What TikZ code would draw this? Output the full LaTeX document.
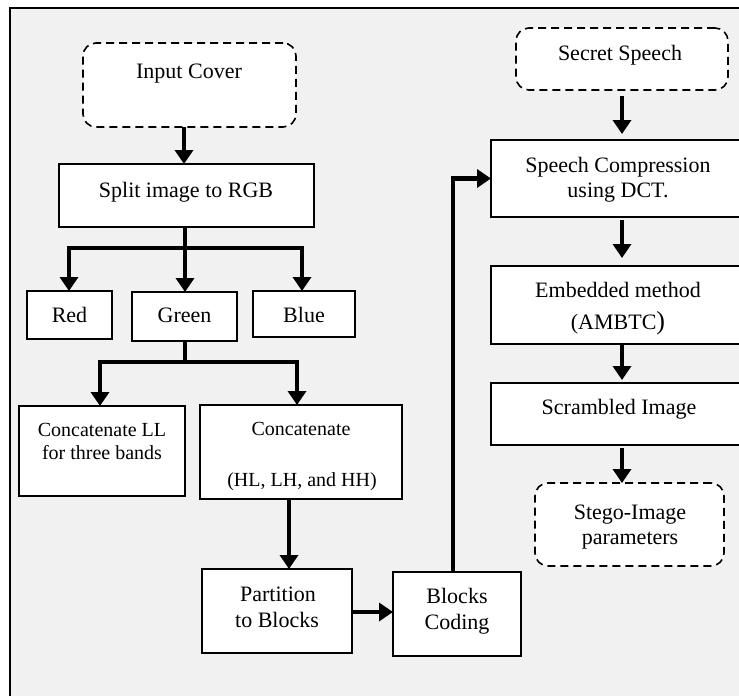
\documentclass[tikz,border=0pt]{standalone}
\usepackage{fontspec}
\setmainfont{Liberation Serif}
\usetikzlibrary{arrows.meta}
\definecolor{bgc}{HTML}{F1F1F1}
\newcommand\fsz[1]{\fontsize{#1}{#1}\selectfont}
\tikzset{
  box/.style={draw, line width=1.6pt, fill=white, inner sep=0pt, outer sep=0pt},
  dbox/.style={box, dash pattern=on 8pt off 5pt, rounded corners=13pt},
  txt/.style={inner sep=0pt, outer sep=0pt, font=\fsz{22}, text height=15pt, text depth=0pt},
  stxt/.style={txt, font=\fsz{20}, text height=14pt},
  ln/.style={line width=4.2pt},
  arr/.style={line width=4.2pt, -{Triangle[length=14pt,width=18pt]}}
}
\begin{document}
\begin{tikzpicture}[x=1pt,y=-1pt]
\useasboundingbox (0,0) rectangle (739,696);
\clip (0,0) rectangle (739,696);
\draw[line width=1.6pt, fill=bgc] (10,8) rectangle (800,760);

% boxes
\node[dbox, minimum width=213pt, minimum height=84pt] (incover) at (189.5,85) {};
\node[box, minimum width=255pt, minimum height=63pt] (split) at (186.5,195.5) {};
\node[box, minimum width=85pt, minimum height=48pt] (red) at (69.5,315) {};
\node[box, minimum width=105pt, minimum height=49pt] (green) at (184.5,316.5) {};
\node[box, minimum width=102pt, minimum height=46pt] (blue) at (304,314) {};
\node[box, minimum width=166pt, minimum height=90pt] (cll) at (102,451) {};
\node[box, minimum width=202pt, minimum height=94pt] (ccat) at (301,452) {};
\node[box, minimum width=150pt, minimum height=84pt] (part) at (277,611) {};
\node[box, minimum width=128pt, minimum height=84pt] (bcode) at (457,614) {};
\node[dbox, minimum width=212pt, minimum height=62pt] (secret) at (622,59) {};
\node[box, minimum width=254pt, minimum height=77pt] (speech) at (618,178.5) {};
\node[box, minimum width=254pt, minimum height=78pt] (embed) at (618,305) {};
\node[box, minimum width=254pt, minimum height=62pt] (scram) at (618,414) {};
\node[dbox, minimum width=189pt, minimum height=83pt] (stego) at (629.5,524.5) {};

% texts
\node[txt] (t-incover) at (189,71) {Input Cover};
\node[txt] (t-split) at (186,190) {Split image to RGB};
\node[txt] (t-red) at (69.5,315) {Red};
\node[txt] (t-green) at (184.5,315) {Green};
\node[txt] (t-blue) at (304,315) {Blue};
\node[stxt] (t-cll1) at (102,429) {Concatenate LL};
\node[stxt] (t-cll2) at (102,452) {for three bands};
\node[stxt] (t-ccat1) at (301,428) {Concatenate};
\node[stxt] (t-ccat2) at (302,479) {(HL, LH, and HH)};
\node[txt] (t-part1) at (278,594) {Partition};
\node[txt] (t-part2) at (277,620) {to Blocks};
\node[txt] (t-bcode1) at (457,596) {Blocks};
\node[txt] (t-bcode2) at (457,622) {Coding};
\node[txt] (t-secret) at (620,53) {Secret Speech};
\node[txt] (t-speech1) at (618,165) {Speech Compression};
\node[txt] (t-speech2) at (618,190) {using DCT.};
\node[txt] (t-embed1) at (618,290) {Embedded method};
\node[txt] (t-embed2) at (618,322) {(AMBTC{\fsz{26})}};
\node[txt] (t-scram) at (619,407) {Scrambled Image};
\node[txt] (t-stego1) at (630,512) {Stego-Image};
\node[txt] (t-stego2) at (630,537) {parameters};

% helper coordinates
\coordinate (xa) at (184,0);
\coordinate (j1) at (185,248);
\coordinate (j2) at (185,362);
\coordinate (xb) at (297,0);
\coordinate (xl) at (100,0);
\coordinate (xr) at (69,0);
\coordinate (xu) at (302,0);
\coordinate (xc) at (289,0);
\coordinate (xd) at (453,0);
\coordinate (xe) at (622,0);

% connectors
\draw[arr] (incover.south -| xa) -- (split.north -| xa);
\draw[ln] (split.south -| j1) -- (j1);
\draw[arr] (j1) -| (red.north -| xr);
\draw[arr] (j1) -| (blue.north -| xu);
\draw[arr] (j1) -- (green.north -| j1);
\draw[ln] (green.south -| j2) -- (j2);
\draw[arr] (j2) -| (cll.north -| xl);
\draw[arr] (j2) -| (ccat.north -| xb);
\draw[arr] (ccat.south -| xc) -- (part.north -| xc);
\draw[arr] (part.east |- 0,612) -- (bcode.west |- 0,612);
\draw[arr] (bcode.north -| xd) |- (speech.west);
\draw[arr, shorten <=6pt, shorten >=6pt] (secret.south -| xe) -- (speech.north -| xe);
\draw[arr, shorten <=3pt, shorten >=8pt] (speech.south -| xe) -- (embed.north -| xe);
\draw[arr, shorten >=3pt] (embed.south -| xe) -- (scram.north -| xe);
\draw[arr, shorten <=3pt] (scram.south -| xe) -- (stego.north -| xe);
\end{tikzpicture}
\end{document}
